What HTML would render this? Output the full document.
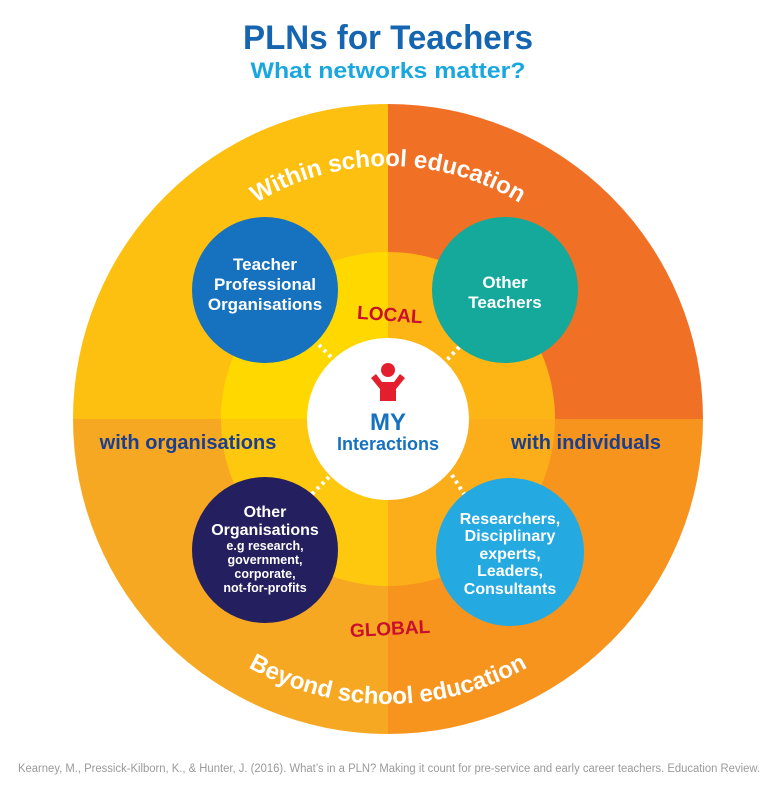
<!DOCTYPE html>
<html><head><meta charset="utf-8"><style>
html,body{margin:0;padding:0;background:#fff;}
svg{display:block;}
text{font-family:"Liberation Sans",sans-serif;font-weight:bold;}
</style></head><body>
<svg width="776" height="800" viewBox="0 0 776 800" xmlns="http://www.w3.org/2000/svg">
<text x="388" y="49" text-anchor="middle" font-size="34" fill="#1565B0" textLength="290" lengthAdjust="spacingAndGlyphs">PLNs for Teachers</text>
<text x="388" y="78" text-anchor="middle" font-size="22" fill="#1AA7E0" textLength="275" lengthAdjust="spacingAndGlyphs">What networks matter?</text>
<g>
<path d="M388,419 L73,419 A315,315 0 0 1 388,104 Z" fill="#FDC010"/>
<path d="M388,419 L388,104 A315,315 0 0 1 703,419 Z" fill="#F07125"/>
<path d="M388,419 L73,419 A315,315 0 0 0 388,734 Z" fill="#F7A823"/>
<path d="M388,419 L388,734 A315,315 0 0 0 703,419 Z" fill="#F7941E"/>
<path d="M388,419 L221,419 A167,167 0 0 1 388,252 Z" fill="#FFD800"/>
<path d="M388,419 L388,252 A167,167 0 0 1 555,419 Z" fill="#FDB515"/>
<path d="M388,419 L221,419 A167,167 0 0 0 388,586 Z" fill="#FDC80E"/>
<path d="M388,419 L388,586 A167,167 0 0 0 555,419 Z" fill="#FBAE19"/>
</g>
<defs>
<path id="top" d="M135,419 A253,253 0 0 1 641,419"/>
<path id="bot" d="M103,419 A285,285 0 0 0 673,419"/>
</defs>
<text font-size="24" fill="#fff"><textPath href="#top" startOffset="50%" text-anchor="middle">Within school education</textPath></text>
<text font-size="24" fill="#fff"><textPath href="#bot" startOffset="50%" text-anchor="middle">Beyond school education</textPath></text>
<g stroke="#fff" stroke-width="4" stroke-dasharray="3,4">
<line x1="314" y1="340" x2="336" y2="362"/>
<line x1="464" y1="342" x2="444" y2="363"/>
<line x1="312" y1="494" x2="332" y2="474"/>
<line x1="452" y1="475" x2="464" y2="494"/>
</g>
<circle cx="388" cy="419" r="81" fill="#fff"/>
<circle cx="265" cy="290" r="73" fill="#1672BF"/>
<circle cx="505" cy="290" r="73" fill="#14A99B"/>
<circle cx="265" cy="550" r="73" fill="#241F5E"/>
<circle cx="510" cy="552" r="74" fill="#24A9E1"/>
<g fill="#fff" text-anchor="middle">
<text font-size="17"><tspan x="265" y="270">Teacher</tspan><tspan x="265" y="290">Professional</tspan><tspan x="265" y="310">Organisations</tspan></text>
<text font-size="17"><tspan x="505" y="288">Other</tspan><tspan x="505" y="308">Teachers</tspan></text>
<text font-size="16"><tspan x="265" y="517">Other</tspan><tspan x="265" y="535">Organisations</tspan></text>
<text font-size="12.5"><tspan x="265" y="550">e.g research,</tspan><tspan x="265" y="564">government,</tspan><tspan x="265" y="578">corporate,</tspan><tspan x="265" y="592">not-for-profits</tspan></text>
<text font-size="16"><tspan x="510" y="524">Researchers,</tspan><tspan x="510" y="541">Disciplinary</tspan><tspan x="510" y="559">experts,</tspan><tspan x="510" y="576">Leaders,</tspan><tspan x="510" y="594">Consultants</tspan></text>
</g>
<text x="390" y="321" text-anchor="middle" font-size="19" fill="#C8102E" transform="rotate(4 390 313)">LOCAL</text>
<text x="390" y="635" text-anchor="middle" font-size="19" fill="#C8102E" transform="rotate(-3 390 628)">GLOBAL</text>
<text x="188" y="449" text-anchor="middle" font-size="20" fill="#1B3F8F">with organisations</text>
<text x="586" y="449" text-anchor="middle" font-size="20" fill="#1B3F8F">with individuals</text>
<g fill="#E31E2D">
<circle cx="388" cy="370" r="7"/>
<path d="M371,378 L376,374 L382,382 L394,382 L400,374 L405,378 L396,389 L396,401 L380,401 L380,389 Z"/>
</g>
<text x="388" y="430" text-anchor="middle" font-size="24" fill="#1672BF">MY</text>
<text x="388" y="450" text-anchor="middle" font-size="18" fill="#1672BF">Interactions</text>
<text x="389" y="772" text-anchor="middle" font-size="11.5" fill="#9A9A9A" style="font-weight:normal" textLength="742" lengthAdjust="spacingAndGlyphs">Kearney, M., Pressick-Kilborn, K., &amp; Hunter, J. (2016). What’s in a PLN? Making it count for pre-service and early career teachers. Education Review.</text>
</svg>
</body></html>
